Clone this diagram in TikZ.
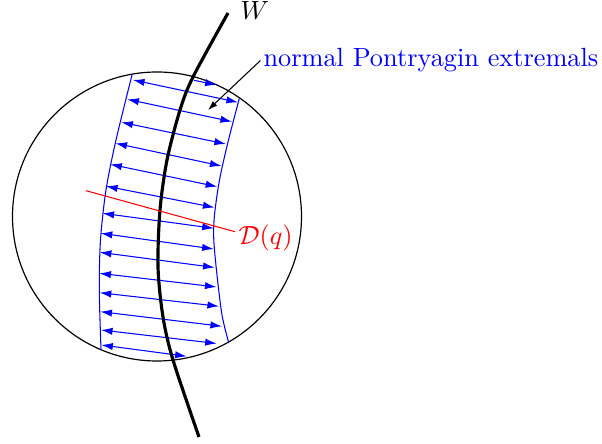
\documentclass[tikz,border=0pt]{standalone}
\usetikzlibrary{arrows.meta}
\begin{document}
\begin{tikzpicture}[x=0.38pt,y=-0.38pt,
  ext/.style={blue, line width=0.4pt, {Latex[length=4.4pt,width=2.8pt]}-{Latex[length=4.4pt,width=2.8pt]}},
  exthalf/.style={blue, line width=0.4pt, -{Latex[length=4.4pt,width=2.8pt]}},
  bound/.style={blue, line width=0.4pt},
  lab/.style={anchor=base west, inner sep=0pt}]
\useasboundingbox (0,0) rectangle (602,444);
% circle
\draw[line width=0.45pt] (157,216.5) circle [radius=144.5];
% band boundaries
\draw[bound] plot[smooth] coordinates {(132,75) (116,140) (106,190) (100.5,240) (99.3,290) (101,349.5)};
\draw[bound] plot[smooth] coordinates {(239.3,98.5) (228,142) (219.5,180) (214.5,215) (213.8,240) (217,275) (222,315) (228.5,342)};
% extremals
\draw[exthalf] (194,80.3) -- (216.7,85);
\draw[ext] (133,80) -- (238,102.3);
\draw[ext] (127.3,99.3) -- (232,121.7);
\draw[ext] (121.3,122.3) -- (226,144);
\draw[ext] (115.5,143.3) -- (221.5,166);
\draw[ext] (110.3,164.3) -- (217.3,186.7);
\draw[ext] (106,186.2) -- (214.5,207.5);
\draw[ext] (102.5,213.3) -- (213.8,228.3);
\draw[ext] (100.7,233.3) -- (213.7,249);
\draw[ext] (99.8,252.3) -- (214.6,267.5);
\draw[ext] (99.4,273.3) -- (216.5,287);
\draw[ext] (99.7,292.7) -- (219,306.3);
\draw[ext] (100.4,311.7) -- (222,326.3);
\draw[ext] (101,330) -- (216.7,343.5);
\draw[ext] (101.3,345) -- (186.7,356.3);
% W curve
\draw[line width=1.2pt] plot[smooth] coordinates {(228,13) (193,77) (180,110) (167,160) (160,210) (158,267) (163,317) (173,360) (199,437)};
% red line
\coordinate (r1) at (86,190.7);
\coordinate (r2) at (235,231.7);
\draw[red, line width=0.4pt] (r1) -- (r2);
% labels
\node[lab] (W) at (240,20) {$W$};
\node[lab, blue] (npe) at (263,67) {normal Pontryagin extremals};
\node[lab, red] (D) at (238,245) {$\mathcal{D}(q)$};
\coordinate (tip) at (208,110);
\draw[line width=0.4pt, -{Latex[length=3.6pt,width=2.4pt]}] ([xshift=-1pt]npe.west) -- (tip);
\end{tikzpicture}
\end{document}
